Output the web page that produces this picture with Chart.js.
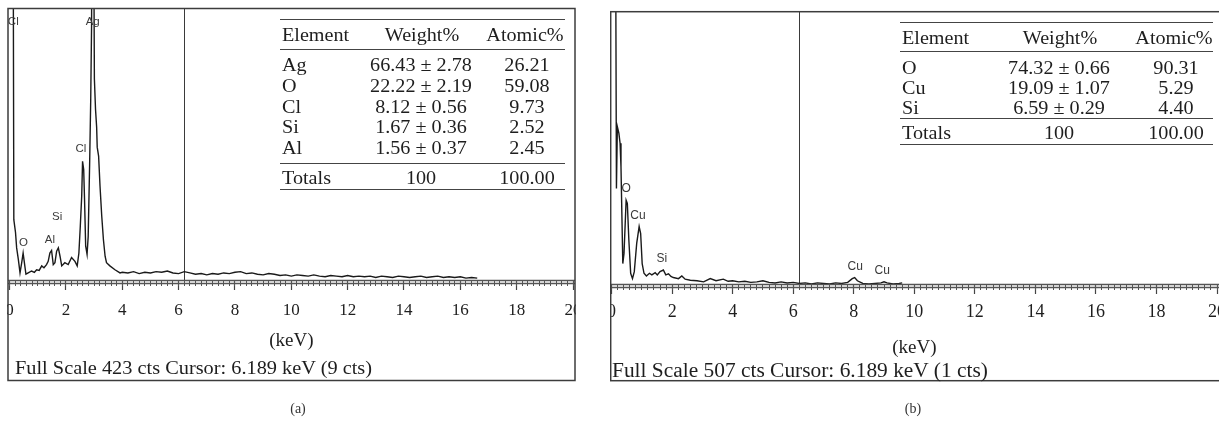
<!DOCTYPE html>
<html><head><meta charset="utf-8">
<script src="https://cdn.jsdelivr.net/npm/chart.js@4.4.1/dist/chart.umd.min.js"></script>
<style>
html,body{margin:0;padding:0;background:#fff;width:1219px;height:425px;overflow:hidden;}
.wrap{position:absolute;top:0;height:425px;overflow:hidden;}
canvas{position:absolute;top:0;}
.t{position:absolute;font-family:"Liberation Serif","Times New Roman",serif;color:#1e1e1e;white-space:nowrap;}
.rule{position:absolute;height:0;border-top:1.5px solid #444;}
</style></head><body>
<div class="wrap" style="left:7px;width:569px"><canvas id="ca" width="590" height="425" style="left:-7px"></canvas></div>
<div class="wrap" style="left:610px;width:609px"><canvas id="cb" width="619" height="425" style="left:-10px"></canvas></div>
<div id="ov"></div>
<script>
// ---------------- data ----------------
const energyA = [0.12,0.15,0.21,0.25,0.31,0.37,0.43,0.48,0.54,0.58,0.66,0.78,0.88,0.96,1.05,1.14,1.22,1.31,1.37,1.43,
  1.49,1.55,1.61,1.67,1.73,1.79,1.85,1.96,2.08,2.20,2.32,2.40,2.46,2.51,2.56,2.59,2.63,2.66,2.70,2.75,
  2.79,2.84,2.88,2.91,2.93,2.97,3.01,3.05,3.09,3.11,3.16,3.21,3.27,3.33,3.39,3.44,3.56,3.74,3.92,
  4.0,4.2,4.4,4.6,4.8,5.0,5.2,5.4,5.6,5.8,6.0,6.2,6.4,6.6,6.8,7.0,7.2,7.4,7.6,7.8,8.0,8.2,8.4,8.6,8.8,
  9.0,9.2,9.4,9.6,9.8,10.0,10.2,10.4,10.6,10.8,11.0,11.2,11.4,11.6,11.8,12.0,12.2,12.4,12.6,12.8,
  13.0,13.2,13.4,13.6,13.8,14.0,14.2,14.4,14.6,14.8,15.0,15.2,15.4,15.6,15.8,16.0,16.2,16.4,16.6];
const countsA = [700,94,74,50,32,11,27,42,22,9,11,14,12,16,15,22,19,24,29,42,
  46,24,27,45,50,37,22,27,24,35,29,22,42,84,131,185,172,126,53,40,
  68,178,282,396,700,700,313,266,238,207,193,146,100,63,37,27,22,16,11,
  12,11,13,10,12,11,13,12,14,11,10,13,11,9,10,8,10,9,11,10,12,13,10,11,9,
  8,10,9,7,8,6,8,7,6,8,6,5,7,6,5,7,5,6,5,6,
  4,6,5,4,6,5,4,5,6,4,5,6,4,5,4,5,3,4,3];
const energyB = [0.13,0.16,0.19,0.24,0.28,0.31,0.37,0.41,0.48,0.52,0.57,0.63,0.69,0.75,0.83,0.91,0.96,1.01,1.07,1.15,
  1.25,1.33,1.44,1.51,1.60,1.71,1.79,1.88,1.96,2.04,2.21,2.32,2.43,2.60,2.82,3.04,3.26,3.45,3.69,3.85,
  4.0,4.2,4.4,4.6,4.8,5.0,5.2,5.4,5.6,5.8,6.0,6.2,6.4,6.6,6.8,7.0,7.2,7.4,7.6,7.8,7.95,8.03,8.12,8.3,
  8.5,8.7,8.9,9.0,9.1,9.3,9.5,9.6];
const countsB = [700,178,293,281,262,218,38,57,156,150,82,20,10,23,76,107,94,38,20,15,
  20,17,21,17,23,26,17,19,14,12,10,15,9,7,6,4,10,6,9,5,
  6,4,5,3,4,6,3,2,4,2,3,1,2,0,2,1,0,2,1,3,10,12,6,1,
  0,1,2,4,2,0,1,2];
const peakNamesA = ['Cl','O','Al','Si','Cl','Ag'];
const peakKeVA   = [0.13,0.49,1.43,1.69,2.53,2.95];
const peakCtsA   = [402,58,62,99,204,402];
const peakNamesB = ['O','Cu','Si','Cu','Cu'];
const peakKeVB   = [0.48,0.87,1.66,8.05,8.94];
const peakCtsB   = [177,127,48,32,25];
const fullScale  = [423,507];
const cursorKeV  = 6.189;
const cursorCts  = [9,1];
const tableHeader = ['Element','Weight%','Atomic%'];
const elementsA = ['Ag','O','Cl','Si','Al'];
const weightA   = ['66.43 ± 2.78','22.22 ± 2.19','8.12 ± 0.56','1.67 ± 0.36','1.56 ± 0.37'];
const atomicA   = ['26.21','59.08','9.73','2.52','2.45'];
const totalsA   = ['Totals','100','100.00'];
const elementsB = ['O','Cu','Si'];
const weightB   = ['74.32 ± 0.66','19.09 ± 1.07','6.59 ± 0.29'];
const atomicB   = ['90.31','5.29','4.40'];
const totalsB   = ['Totals','100','100.00'];
const captions  = ['(a)','(b)'];
const axisTitle = '(keV)';

// ---------------- chart ----------------
const SERIF = '"Liberation Serif","Times New Roman",serif';
function makeChart(id, energy, counts, maxCts, names, kev, cts, g){
  const deco = {
    id:'deco',
    beforeDatasetsDraw(chart){
      const {ctx, chartArea:a, scales:{x}} = chart;
      const cx = Math.round(x.getPixelForValue(cursorKeV))+0.5;
      ctx.save(); ctx.strokeStyle='#3a3a3a'; ctx.lineWidth=1;
      ctx.beginPath(); ctx.moveTo(cx,a.top); ctx.lineTo(cx,a.bottom); ctx.stroke(); ctx.restore();
    },
    afterDraw(chart){
      const {ctx, chartArea:a, scales:{x,y}} = chart;
      const [l,t,r,b] = g.frame;
      ctx.save();
      ctx.strokeStyle='#555'; ctx.lineWidth=1.3;
      ctx.beginPath();
      ctx.moveTo(l,a.bottom+0.5); ctx.lineTo(r,a.bottom+0.5);
      ctx.moveTo(l,a.bottom+3.5); ctx.lineTo(r,a.bottom+3.5);
      ctx.stroke();
      ctx.font = g.labelFont; ctx.fillStyle='#3a3a3a'; ctx.textAlign='center'; ctx.textBaseline='middle';
      names.forEach((n,i)=>ctx.fillText(n, x.getPixelForValue(kev[i]), y.getPixelForValue(cts[i])));
      ctx.strokeStyle='#3c3c3c'; ctx.lineWidth=1.5;
      ctx.strokeRect(l,t,r-l,b-t);
      ctx.restore();
    }
  };
  const zeroPad = s => { s.paddingLeft=0; s.paddingRight=0; s.paddingTop=0; s.paddingBottom=0; };
  return new Chart(document.getElementById(id), {
    type:'line',
    data:{datasets:[{xAxisID:'x', yAxisID:'y',
      data: energy.map((e,i)=>({x:e, y:counts[i]})),
      borderColor:'#1a1a1a', borderWidth:1.4, pointRadius:0, tension:0, fill:false}]},
    options:{
      responsive:false, animation:false, devicePixelRatio:1,
      layout:{padding:{left:g.pad[0], right:g.pad[1], top:g.pad[2], bottom:0}},
      plugins:{legend:{display:false}, tooltip:{enabled:false}, title:{display:false}},
      scales:{
        x:{type:'linear', position:'bottom', weight:1, min:0, max:20,
          afterFit:s=>{ s.height=g.axisH; zeroPad(s); },
          border:{display:false},
          grid:{drawOnChartArea:false, drawTicks:true, tickLength:10, tickColor:'#444', tickWidth:1.2},
          ticks:{stepSize:2, padding:g.tickPad, autoSkip:false, maxRotation:0, color:'#1e1e1e',
                 font:{family:SERIF, size:g.tickSize}},
          title:{display:true, text:axisTitle, color:'#1e1e1e', font:{family:SERIF, size:g.titleSize},
                 padding:{top:0, bottom:g.titlePad}}},
        xm:{type:'linear', position:'bottom', weight:0, min:0, max:20,
          afterFit:s=>{ s.height=0; zeroPad(s); },
          border:{display:false},
          grid:{drawOnChartArea:false, drawTicks:true, tickLength:6, tickColor:'#555', tickWidth:1},
          ticks:{display:false, stepSize:0.2}},
        y:{type:'linear', display:false, min:0, max:maxCts}
      }
    },
    plugins:[deco]
  });
}
makeChart('ca', energyA, countsA, fullScale[0], peakNamesA, peakKeVA, peakCtsA,
  {pad:[9.6,17,8.5], axisH:145, tickPad:10, tickSize:17, titleSize:19, titlePad:73,
   frame:[8,8.5,575,380.5], labelFont:'11.5px "Liberation Sans", Arial, sans-serif'});
makeChart('cb', energyB, countsB, fullScale[1], peakNamesB, peakKeVB, peakCtsB,
  {pad:[11.6,2,11.7], axisH:141, tickPad:7, tickSize:18, titleSize:19, titlePad:66,
   frame:[10.7,11.7,640,380.7], labelFont:'12px "Liberation Sans", Arial, sans-serif'});

// ---------------- text overlays ----------------
const ov = document.getElementById('ov');
function txt(s, x, yc, size, center, sx, extra){
  const d = document.createElement('div');
  d.className='t'; d.textContent=s;
  const lh = Math.round(size*1.2);
  d.style.fontSize=size+'px'; d.style.lineHeight=lh+'px';
  d.style.left=x+'px'; d.style.top=(yc-lh/2)+'px';
  if(center){ d.style.transform='translateX(-50%) scaleX('+sx+')'; }
  else { d.style.transformOrigin='0 50%'; d.style.transform='scaleX('+sx+')'; }
  if(extra) Object.assign(d.style, extra);
  ov.appendChild(d); return d;
}
function rule(x0,x1,y){
  const d=document.createElement('div'); d.className='rule';
  d.style.left=x0+'px'; d.style.width=(x1-x0)+'px'; d.style.top=(y-0.75)+'px';
  ov.appendChild(d);
}
function table(el, wt, at, tot, g){
  const fs=18, k=1.12;
  g.rules.forEach(y=>rule(g.x0,g.x1,y));
  txt(tableHeader[0], g.x0+2, g.head, fs, false, k);
  txt(tableHeader[1], g.cw, g.head, fs, true, k);
  txt(tableHeader[2], g.ca, g.head, fs, true, k);
  el.forEach((e,i)=>{
    const y = g.rows[i];
    txt(e, g.x0+2, y, fs, false, k);
    txt(wt[i], g.cw-1, y, fs, true, k);
    txt(at[i], g.ca+2, y, fs, true, k);
  });
  txt(tot[0], g.x0+2, g.tot, fs, false, k);
  txt(tot[1], g.cw-1, g.tot, fs, true, k);
  txt(tot[2], g.ca+2, g.tot, fs, true, k);
}
table(elementsA, weightA, atomicA, totalsA,
  {x0:280, x1:565, cw:422, ca:525, rules:[20,49.3,163.3,190], head:35, rows:[65,85.8,106.6,127.4,148.2], tot:178});
table(elementsB, weightB, atomicB, totalsB,
  {x0:900, x1:1213, cw:1060, ca:1174, rules:[22.7,51.7,118.3,145], head:38.3, rows:[68.3,88.3,108.3], tot:132.7});

txt('Full Scale '+fullScale[0]+' cts Cursor: '+cursorKeV+' keV ('+cursorCts[0]+' cts)', 15, 367, 19, false, 1.07);
txt('Full Scale '+fullScale[1]+' cts Cursor: '+cursorKeV+' keV ('+cursorCts[1]+' cts)', 612, 369.5, 20, false, 1.07);
txt(captions[0], 298, 408, 14, true, 1, {color:'#333'});
txt(captions[1], 913, 408, 14, true, 1, {color:'#333'});
</script>
</body></html>
